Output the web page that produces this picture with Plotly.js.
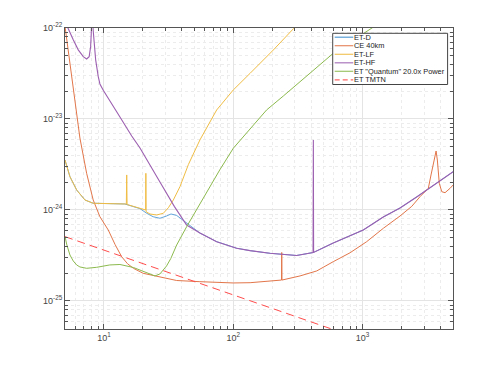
<!DOCTYPE html>
<html><head><meta charset="utf-8">
<script src="https://cdn.plot.ly/plotly-3.0.1.min.js"></script>
<style>html,body{margin:0;padding:0;background:#fff}</style>
</head><body><div id="chart" style="width:500px;height:370px"></div>
<script>
// ---- data (frequency in Hz, strain ASD as log10 values) ----
const seriesNames = ['ET-D', 'CE 40km', 'ET-LF', 'ET-HF', 'ET "Quantum" 20.0x Power', 'ET TMTN'];

const etD_f   = [5.0, 5.46, 6.15, 7.13, 8.26, 11.1, 14.5, 19.0, 21.4, 24.0, 27.1, 30.5, 33.0, 36.5, 41.0, 46.2, 55.2, 74.4, 106, 135, 192, 309, 416, 593, 800, 1012, 1445, 1947, 2618, 3222, 5015];
const etD_log = [-23.451, -23.634, -23.78, -23.89, -23.926, -23.926, -23.934, -23.985, -24.036, -24.074, -24.091, -24.066, -24.044, -24.06, -24.115, -24.176, -24.253, -24.348, -24.42, -24.447, -24.476, -24.5, -24.467, -24.363, -24.286, -24.22, -24.077, -23.978, -23.857, -23.769, -23.579];

const ce_f   = [5.0, 5.79, 6.52, 7.35, 8.26, 9.31, 10.8, 12.2, 13.7, 15.2, 16.9, 20.1, 25.6, 36.5, 55.2, 100, 135, 236, 237, 238, 328, 442, 593, 800, 1076, 1450, 1947, 2400, 2778, 3222, 3381, 3524, 3631, 3700, 3784, 3917, 4093, 4339, 4743, 5015];
const ce_log = [-21.98, -22.645, -23.209, -23.597, -23.89, -24.074, -24.22, -24.38, -24.513, -24.59, -24.641, -24.696, -24.725, -24.775, -24.788, -24.802, -24.799, -24.77, -24.467, -24.77, -24.725, -24.67, -24.568, -24.47, -24.348, -24.2, -24.066, -23.96, -23.854, -23.762, -23.615, -23.48, -23.38, -23.352, -23.451, -23.707, -23.799, -23.81, -23.762, -23.725];

const etLF_f   = [5.0, 5.46, 6.15, 7.13, 8.26, 11.1, 14.5, 14.9, 15.0, 15.1, 19.0, 21.0, 21.1, 21.2, 22.7, 25.6, 28.8, 31.5, 34.4, 38.7, 45.0, 55.2, 74.4, 100, 135, 204, 294, 400];
const etLF_log = [-23.451, -23.634, -23.78, -23.89, -23.926, -23.926, -23.934, -23.936, -23.615, -23.94, -23.981, -24.0, -23.597, -24.02, -24.044, -24.055, -24.036, -23.975, -23.89, -23.744, -23.5, -23.231, -22.901, -22.681, -22.498, -22.242, -22.003, -21.85];

const etHF_f   = [5.0, 5.27, 5.79, 6.33, 6.92, 7.35, 7.69, 7.89, 7.98, 8.1, 8.25, 8.41, 8.63, 9.04, 9.31, 9.88, 10.5, 13.3, 16.4, 19.0, 27.1, 35.0, 43.6, 55.2, 74.4, 106, 135, 192, 309, 414, 416, 418, 593, 800, 1012, 1445, 1947, 2618, 3222, 5015];
const etHF_log = [-21.91, -22.0, -22.13, -22.24, -22.315, -22.34, -22.315, -22.205, -22.06, -21.6, -22.02, -22.13, -22.35, -22.535, -22.615, -22.685, -22.742, -22.978, -23.187, -23.319, -23.692, -23.96, -24.165, -24.253, -24.348, -24.42, -24.447, -24.476, -24.5, -24.467, -23.231, -24.466, -24.363, -24.286, -24.22, -24.077, -23.978, -23.857, -23.769, -23.579];

const etQ_f   = [5.0, 5.17, 5.46, 5.79, 6.15, 6.52, 7.35, 8.79, 11.1, 13.3, 16.9, 21.4, 24.8, 27.1, 30.5, 32.9, 36.5, 43.6, 58.6, 78.6, 100, 135, 181, 244, 328, 442, 593, 1211, 2000];
const etQ_log = [-24.293, -24.385, -24.495, -24.56, -24.604, -24.626, -24.641, -24.63, -24.604, -24.599, -24.632, -24.692, -24.725, -24.703, -24.615, -24.533, -24.385, -24.184, -23.871, -23.56, -23.322, -23.11, -22.901, -22.747, -22.59, -22.44, -22.278, -21.99, -21.8];

const tmtn_f   = [5.0, 10, 100, 1000, 5000];
const tmtn_log = [-24.293, -24.442, -24.932, -25.425, -25.77];

const xTickVals = [10, 100, 1000];
const xTickText = ['10<sup>1</sup>', '10<sup>2</sup>', '10<sup>3</sup>'];
const yTickVals = [1e-25, 1e-24, 1e-23, 1e-22];
const yTickText = ['10<sup>-25</sup>', '10<sup>-24</sup>', '10<sup>-23</sup>', '10<sup>-22</sup>'];

// ---- styling ----
const colors = ['#3a8dd0', '#e2764a', '#f0bd45', '#9c5fb0', '#8cba4e', '#ff4d4d'];
const widths = [0.8, 1, 1, 1.1, 1, 1];
const dashes = ['solid', 'solid', 'solid', 'solid', 'solid', '8px,5px'];
const toASD = arr => arr.map(v => Math.pow(10, v));

const seriesF = [etD_f, ce_f, etLF_f, etHF_f, etQ_f, tmtn_f];
const seriesL = [etD_log, ce_log, etLF_log, etHF_log, etQ_log, tmtn_log];

const traces = seriesNames.map((n, i) => ({
  type: 'scatter', mode: 'lines', name: n,
  x: seriesF[i], y: toASD(seriesL[i]),
  line: {color: colors[i], width: widths[i], dash: dashes[i]},
  opacity: 1, showlegend: false, hoverinfo: 'skip'
}));

// minor tick positions (grid decoration)
const xMinor = [];
[1, 10, 100, 1000].forEach(d => { for (let k = 2; k <= 9; k++) { const v = k * d; if (v >= 5 && v <= 5000) xMinor.push(v); } });
const yMinor = [];
[1e-26, 1e-25, 1e-24, 1e-23].forEach(d => { for (let k = 2; k <= 9; k++) { const v = k * d; if (v >= 4.9e-26 && v <= 1e-22) yMinor.push(v); } });

const axisCommon = {
  type: 'log', showline: true, linecolor: '#555', linewidth: 1, mirror: 'allticks',
  ticks: 'inside', ticklen: 5, tickcolor: '#555', tickwidth: 1,
  showgrid: true, gridcolor: '#e4e4e4', gridwidth: 1,
  tickmode: 'array', tickfont: {size: 9, color: '#444'}
};

// plot-area geometry (pixels) used for the hand-drawn legend box
const L = 65, T = 28, W = 387.7, H = 301;
const px = x => (x - L) / W;
const py = y => 1 - (y - T) / H;

const shapes = [{type: 'rect', xref: 'paper', yref: 'paper', x0: px(332.5), x1: px(447.3), y0: py(33.3), y1: py(84.5),
  fillcolor: '#fff', line: {color: '#444', width: 1}, layer: 'above'}];
const annotations = [];
const rowY = [37.2, 45.7, 54.3, 62.8, 71.3, 79.8];
seriesNames.forEach((n, i) => {
  shapes.push({type: 'line', xref: 'paper', yref: 'paper', x0: px(334.5), x1: px(353), y0: py(rowY[i]), y1: py(rowY[i]),
    line: {color: colors[i], width: 1.2, dash: i === 5 ? '5px,3px' : 'solid'}, opacity: 0.85, layer: 'above'});
  annotations.push({xref: 'paper', yref: 'paper', x: px(353), y: py(rowY[i]), xanchor: 'left', yanchor: 'middle',
    text: n, showarrow: false, font: {size: 7.4, color: '#222'}, borderpad: 0});
});

const layout = {
  width: 500, height: 370,
  margin: {l: L, r: 500 - L - W, t: T, b: 370 - T - H},
  paper_bgcolor: '#fff', plot_bgcolor: '#fff',
  font: {family: 'Liberation Sans, Arial, sans-serif', size: 9, color: '#444'},
  showlegend: false,
  xaxis: Object.assign({}, axisCommon, {
    range: [Math.log10(5), Math.log10(5000)], tickvals: xTickVals, ticktext: xTickText,
    minor: {tickmode: 'array', tickvals: xMinor, ticks: 'inside', ticklen: 3, tickcolor: '#555',
            showgrid: true, gridcolor: '#ececec', griddash: 'dot', gridwidth: 1}
  }),
  yaxis: Object.assign({}, axisCommon, {
    range: [-25.308, -22], tickvals: yTickVals, ticktext: yTickText,
    minor: {tickmode: 'array', tickvals: yMinor, ticks: 'inside', ticklen: 3, tickcolor: '#555',
            showgrid: true, gridcolor: '#ececec', griddash: 'dot', gridwidth: 1}
  }),
  shapes: shapes, annotations: annotations
};

Plotly.newPlot('chart', traces, layout, {staticPlot: true, displayModeBar: false});
</script>
</body></html>
